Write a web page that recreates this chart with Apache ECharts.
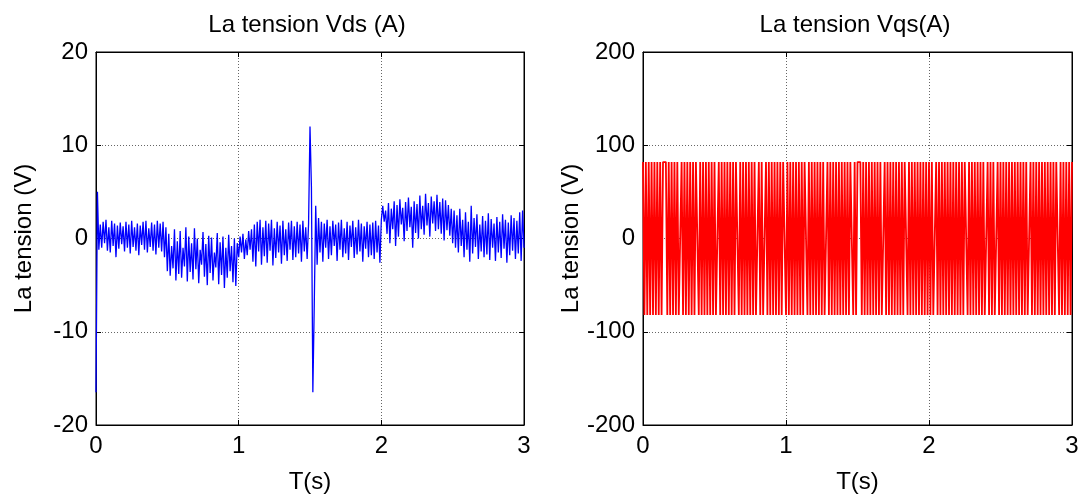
<!DOCTYPE html>
<html>
<head>
<meta charset="utf-8">
<script src="https://cdn.jsdelivr.net/npm/echarts@6/dist/echarts.min.js"></script>
<style>html,body{margin:0;padding:0;background:#fff}#c{width:1083px;height:499px}</style>
</head>
<body>
<div id="c"></div>
<script>
// ---- data ----
const titles = ['La tension Vds (A)', 'La tension Vqs(A)'];
const xName = 'T(s)';
const yName = 'La tension (V)';
const xTicks = [0, 1, 2, 3];
const yTicksLeft = [-20, -10, 0, 10, 20];
const yTicksRight = [-200, -100, 0, 100, 200];
const t0 = 0, dt = 0.01; // sample times (s)

// Vds samples (V), one every 0.01 s from 0 to 3 s
const vds = [
  -16.5, 5.0, -1.2, 1.5, -1.0, 1.8, -0.5, 2.0, -1.3, 1.2,
  -1.5, 1.9, -0.8, 1.6, -2.0, 1.4, -1.1, 1.7, -0.6, 1.3,
  -1.4, 1.8, -1.0, 1.5, -1.6, 1.9, -0.9, 1.2, -1.3, 1.6,
  -1.8, 1.4, -0.7, 1.8, -1.2, 1.9, -1.5, 1.1, -0.9, 1.7,
  -1.3, 1.5, -1.7, 1.9, -1.0, 1.6, -1.4, 1.8, -2.0, 1.2,
  -3.5, 0.5, -4.0, -0.8, -3.2, 1.0, -4.5, -0.3, -3.8, 0.8,
  -4.2, -1.0, -3.0, 1.2, -4.6, 0.2, -3.6, -0.5, -4.4, 1.1,
  -3.3, 0.0, -4.8, -1.2, -2.8, 0.7, -4.1, -0.6, -5.0, 0.3,
  -3.7, 0.1, -4.5, -1.5, -3.1, 0.6, -4.9, -0.4, -3.9, 0.2,
  -5.3, -1.0, -4.2, 0.4, -3.5, -0.8, -4.7, 0.0, -5.1, -0.5,
  -2.0, 0.2, -1.5, 0.5, -2.2, -0.1, -1.8, 0.8, -1.2, 1.0,
  -2.5, 1.5, -3.0, 1.8, -1.4, 2.0, -2.8, 1.2, -1.9, 1.9,
  -2.6, 1.6, -1.3, 2.0, -2.9, 1.1, -2.1, 1.8, -1.5, 1.4,
  -2.7, 1.9, -1.8, 1.0, -2.4, 1.7, -1.2, 1.9, -2.3, 1.3,
  -2.0, 1.8, -1.6, 1.5, -2.5, 1.9, -1.4, 1.2, -2.2, 1.6,
  12.0, 5.5, -16.5, -7.0, 3.5, -2.8, 2.2, -1.5, 1.8, -2.5,
  1.6, -1.0, 2.0, -2.2, 1.3, -1.8, 1.9, -0.8, 1.5, -2.4,
  1.7, -1.2, 2.0, -2.0, 1.1, -1.6, 1.8, -2.3, 1.4, -0.9,
  1.9, -2.1, 1.2, -1.7, 2.0, -1.4, 1.6, -2.5, 1.3, -1.1,
  1.8, -2.0, 1.5, -1.8, 1.7, -2.2, 1.9, -1.5, 1.4, -2.6,
  2.0, 3.5, 1.8, 3.0, 0.5, 3.8, -0.5, 3.2, 1.0, 4.0,
  -0.8, 3.6, 0.2, 4.2, 1.5, 3.3, -0.3, 3.9, 0.8, 4.4,
  1.2, 3.4, -1.0, 4.0, 0.6, 3.7, 0.0, 4.6, 1.0, 3.5,
  0.4, 4.8, 1.4, 3.8, 0.2, 4.5, 1.6, 4.0, 0.8, 4.7,
  1.0, 3.9, 0.5, 4.3, -0.2, 4.1, 0.9, 3.6, 0.3, 3.2,
  -0.5, 3.0, -1.0, 2.5, -1.5, 3.2, -0.8, 2.0, -2.0, 2.8,
  -1.2, 1.8, -2.5, 3.5, -1.6, 2.2, -0.9, 2.6, -2.2, 1.5,
  -1.4, 2.4, -2.0, 1.9, -1.7, 2.7, -2.3, 2.1, -1.0, 1.6,
  -2.4, 2.3, -1.5, 1.8, -2.1, 2.6, -1.1, 2.0, -2.6, 1.7,
  -1.8, 2.5, -1.3, 2.2, -2.2, 1.9, -1.6, 2.8, -2.4, 3.0,
  -1.0
];

// Vqs samples (V), one every 0.01 s from 0 to 3 s
const vqs = [
  82,-82,82,-82,82,-82,82,-82,82,-82,
  82,-82,82,-82,82,82,82,-82,82,-82,
  82,-82,82,-82,82,-82,-82,82,-82,82,
  -82,82,-82,82,-82,82,-82,82,82,-82,
  82,-82,82,-82,82,-82,82,-82,82,-82,
  82,-82,-82,82,-82,82,-82,82,-82,82,
  -82,82,-82,82,-82,82,82,-82,82,-82,
  82,-82,82,-82,82,-82,82,-82,82,-82,
  -82,82,-82,82,-82,-82,82,-82,82,-82,
  82,-82,82,-82,82,-82,82,-82,82,82,
  -82,82,-82,82,-82,82,-82,82,-82,82,
  -82,82,-82,82,82,-82,82,-82,82,-82,
  82,-82,82,-82,82,-82,82,-82,-82,82,
  -82,82,-82,82,-82,82,-82,82,-82,82,
  -82,82,-82,82,-82,82,82,-82,82,-82,
  82,82,82,-82,82,-82,82,-82,82,-82,
  82,-82,82,-82,82,-82,82,-82,-82,82,
  -82,82,-82,82,-82,82,-82,82,-82,82,
  -82,82,-82,82,82,-82,82,-82,82,-82,
  82,-82,82,-82,82,-82,82,-82,82,-82,
  82,-82,82,-82,-82,82,-82,82,-82,82,
  -82,82,-82,82,-82,82,-82,82,-82,82,
  -82,82,-82,82,-82,82,82,-82,82,-82,
  82,-82,82,-82,82,-82,82,-82,82,-82,
  -82,82,-82,82,-82,82,-82,-82,82,-82,
  82,-82,82,-82,82,-82,82,-82,82,-82,
  82,-82,82,-82,82,-82,82,-82,82,-82,
  -82,82,-82,82,-82,82,-82,82,-82,82,
  -82,82,-82,82,-82,82,-82,82,-82,82,
  82,-82,82,-82,82,-82,82,-82,82,-82,
  82
];

// ---- chart ----
const FONT = '"Liberation Sans", Arial, Helvetica, sans-serif';
const FS = 24;
const pair = arr => arr.map((v, i) => [+(t0 + i * dt).toFixed(2), v]);

const grids = [
  { left: 96, top: 52, width: 428, height: 376 },
  { left: 643, top: 52, width: 429, height: 376 }
];

function xAx(gi, pos, main) {
  return {
    type: 'value', gridIndex: gi, position: pos,
    min: xTicks[0], max: xTicks[xTicks.length - 1], interval: 1,
    axisLine: { show: true, onZero: false, lineStyle: { color: '#000', width: 1 } },
    axisTick: { show: true, inside: true, length: 5, lineStyle: { color: '#000' } },
    axisLabel: { show: main, color: '#000', fontSize: FS, fontFamily: FONT, margin: 9 },
    splitLine: { show: main, lineStyle: { color: '#666', type: [1, 2], width: 1 } },
    name: main ? xName : '', nameLocation: 'middle', nameGap: 45,
    nameTextStyle: { color: '#000', fontSize: FS, fontFamily: FONT }
  };
}
function yAx(gi, pos, main, ticks) {
  return {
    type: 'value', gridIndex: gi, position: pos,
    min: ticks[0], max: ticks[ticks.length - 1], interval: ticks[1] - ticks[0],
    axisLine: { show: true, onZero: false, lineStyle: { color: '#000', width: 1 } },
    axisTick: { show: true, inside: true, length: 5, lineStyle: { color: '#000' } },
    axisLabel: { show: main, color: '#000', fontSize: FS, fontFamily: FONT, margin: 8 },
    splitLine: { show: main, lineStyle: { color: '#666', type: [1, 2], width: 1 } },
    name: main ? yName : '', nameLocation: 'middle', nameGap: main ? 60 : 0,
    nameTextStyle: { color: '#000', fontSize: FS, fontFamily: FONT }
  };
}

const chart = echarts.init(document.getElementById('c'), null, { renderer: 'canvas' });
chart.setOption({
  backgroundColor: '#fff',
  animation: false,
  title: [
    { text: titles[0], left: 302, top: 8, textAlign: 'center',
      textStyle: { fontSize: FS, fontWeight: 'normal', color: '#000', fontFamily: FONT } },
    { text: titles[1], left: 850, top: 8, textAlign: 'center',
      textStyle: { fontSize: FS, fontWeight: 'normal', color: '#000', fontFamily: FONT } }
  ],
  grid: grids.map(g => Object.assign({ show: true, borderColor: '#000', borderWidth: 1, backgroundColor: '#fff' }, g)),
  xAxis: [xAx(0, 'bottom', true), xAx(0, 'top', false), xAx(1, 'bottom', true), xAx(1, 'top', false)],
  yAxis: [yAx(0, 'left', true, yTicksLeft), yAx(0, 'right', false, yTicksLeft),
          yAx(1, 'left', true, yTicksRight), yAx(1, 'right', false, yTicksRight)],
  series: [
    { type: 'line', xAxisIndex: 0, yAxisIndex: 0, data: pair(vds), showSymbol: false,
      lineStyle: { color: '#0000ff', width: 1.3 }, itemStyle: { color: '#0000ff' } },
    { type: 'line', xAxisIndex: 2, yAxisIndex: 2, data: pair(vqs), showSymbol: false,
      lineStyle: { color: '#ff0000', width: 1.8 }, itemStyle: { color: '#ff0000' } }
  ]
});
</script>
</body>
</html>
